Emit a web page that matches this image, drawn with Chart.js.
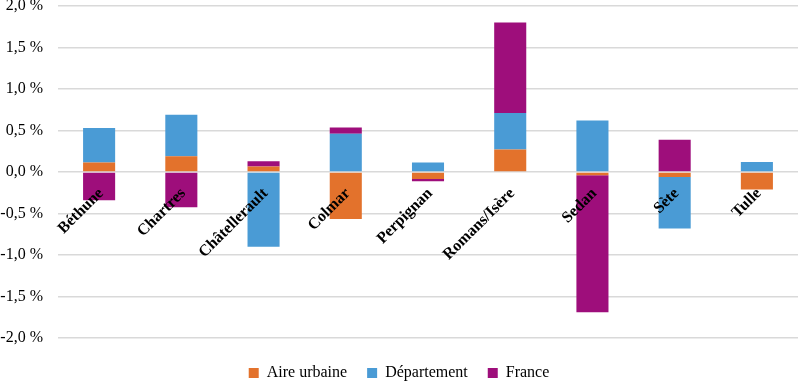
<!DOCTYPE html>
<html>
<head>
<meta charset="utf-8">
<script src="https://cdn.jsdelivr.net/npm/chart.js@4/dist/chart.umd.min.js"></script>
<style>
  html, body { margin: 0; padding: 0; background: #fff; }
  #wrap { width: 800px; height: 381px; }
</style>
</head>
<body>
<div id="wrap"><canvas id="evolChart"></canvas></div>
<script>
const villes = ["Béthune", "Chartres", "Châtellerault", "Colmar", "Perpignan", "Romans/Isère", "Sedan", "Sète", "Tulle"];
const aireUrbaine = [0.115, 0.19, 0.065, -0.565, -0.085, 0.27, -0.04, -0.06, -0.21];
const departement = [0.415, 0.50, -0.90, 0.46, 0.115, 0.44, 0.62, -0.62, 0.12];
const france = [-0.34, -0.425, 0.065, 0.075, -0.025, 1.09, -1.65, 0.39, 0];
const yTicks = [-2, -1.5, -1, -0.5, 0, 0.5, 1, 1.5, 2];

const serif = "'Liberation Serif', 'Times New Roman', serif";

function pct(v) {
  return v.toFixed(1).replace(".", ",") + " %";
}

// city names written at the zero line, rotated, on top of the bars
const zeroLabels = {
  id: "zeroLabels",
  afterDatasetsDraw(chart) {
    const xs = chart.scales.x;
    const ys = chart.scales.y;
    const c = chart.ctx;
    const y0 = ys.getPixelForValue(0);
    c.save();
    c.font = "bold 16px " + serif;
    c.fillStyle = "#000";
    c.textAlign = "right";
    c.textBaseline = "middle";
    villes.forEach((v, i) => {
      c.save();
      c.translate(xs.getPixelForValue(i) + 2, y0 + 19);
      c.rotate(-Math.PI / 4);
      c.fillText(v, 0, 0);
      c.restore();
    });
    c.restore();
  },
};

document.addEventListener("DOMContentLoaded", function () {
  const ctx = document.getElementById("evolChart").getContext("2d");
  new Chart(ctx, {
    type: "bar",
    data: {
      labels: villes,
      datasets: [
        { label: "Aire urbaine", data: aireUrbaine, backgroundColor: "#E3722C" },
        { label: "Département", data: departement, backgroundColor: "#4A9BD5" },
        { label: "France", data: france, backgroundColor: "#9E0E7B" },
      ],
    },
    plugins: [zeroLabels],
    options: {
      responsive: true,
      maintainAspectRatio: false,
      animation: false,
      layout: { padding: { top: 0, right: 2, left: 0, bottom: -10 } },
      datasets: {
        bar: { categoryPercentage: 1, barPercentage: 0.39 },
      },
      plugins: {
        tooltip: { enabled: false },
        legend: {
          position: "bottom",
          // empty title only adds a little room above the items
          title: { display: true, text: " ", padding: 0, font: { size: 7, lineHeight: 1 } },
          labels: {
            boxWidth: 10,
            boxHeight: 10,
            padding: 20,
            color: "#000",
            font: { family: serif, size: 16 },
          },
        },
      },
      scales: {
        x: {
          stacked: true,
          display: false,
        },
        y: {
          stacked: true,
          min: -2,
          max: 2,
          afterBuildTicks: function (axis) {
            axis.ticks = yTicks.map((v) => ({ value: v }));
          },
          afterFit: function (axis) {
            // keep the axis as narrow as the labels + gap, like the original
            axis.width = 58;
            axis.paddingTop = 6;
          },
          grid: { color: "#d9d9d9", lineWidth: 1.5, drawTicks: false },
          border: { display: false },
          ticks: {
            padding: 15,
            color: "#000",
            font: { family: serif, size: 16 },
            callback: function (value) {
              return pct(value);
            },
          },
        },
      },
    },
  });
});
</script>
</body>
</html>
